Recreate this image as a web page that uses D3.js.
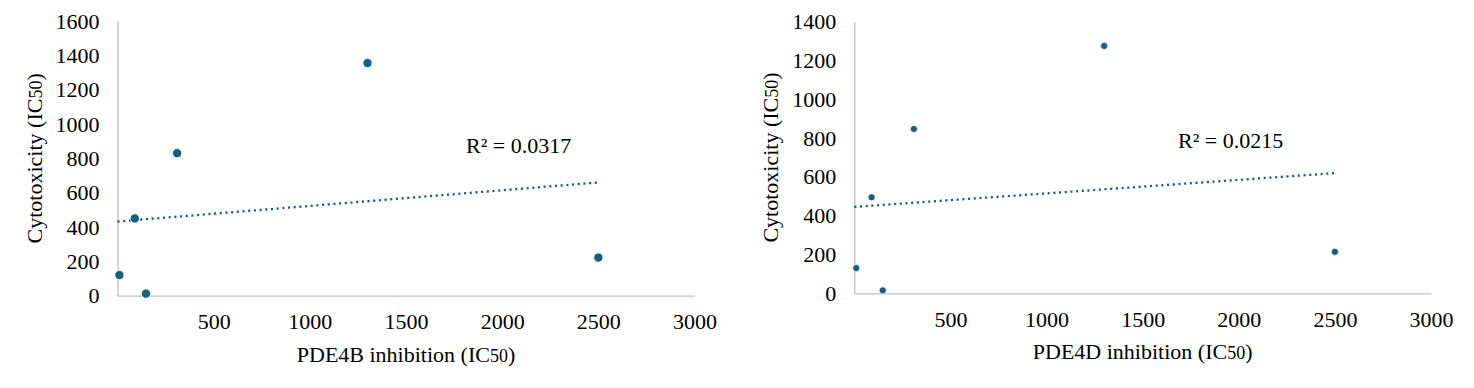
<!DOCTYPE html>
<html>
<head>
<meta charset="utf-8">
<script src="https://cdn.jsdelivr.net/npm/d3@7"></script>
<style>
  body { margin: 0; background: #fff; }
  svg text { font-family: "Liberation Serif", "Times New Roman", serif; fill: #000; }
  .axis .domain { stroke: #c0c0c0; stroke-width: 1.3; }
  .axis text { font-size: 22px; }
</style>
</head>
<body>
<div class="chart"></div>
<script>
// data
const inhibition = [10, 90, 148, 310, 1300, 2500];       // x values (IC50), same compounds both panels
const cytoPDE4B = [120, 450, 12, 830, 1355, 222];
const cytoPDE4D = [130, 495, 15, 847, 1275, 214];
const xTicks = [500, 1000, 1500, 2000, 2500, 3000];
const yTicksB = [0, 200, 400, 600, 800, 1000, 1200, 1400, 1600];
const yTicksD = [0, 200, 400, 600, 800, 1000, 1200, 1400];
const xTitles = ['PDE4B inhibition', 'PDE4D inhibition'];
const r2Labels = ['R² = 0.0317', 'R² = 0.0215'];

const color = '#165e83';

const svg = d3.select('.chart').append('svg')
  .attr('width', 1474).attr('height', 388);

// least squares line for the trendline
function linearFit(xs, ys) {
  const mx = d3.mean(xs), my = d3.mean(ys);
  let sxy = 0, sxx = 0;
  xs.forEach((x, i) => { sxy += (x - mx) * (ys[i] - my); sxx += (x - mx) ** 2; });
  const slope = sxy / sxx;
  return x => my + slope * (x - mx);
}

function drawPanel(opt) {
  const g = svg.append('g');
  const x = d3.scaleLinear([0, 3000], [opt.left, opt.right]);
  const y = d3.scaleLinear([0, d3.max(opt.yTicks)], [opt.bottom, opt.top]);

  // axes, no tick marks
  g.append('g').attr('class', 'axis')
    .attr('transform', `translate(0,${opt.bottom})`)
    .call(d3.axisBottom(x).tickValues(xTicks).tickSize(0).tickPadding(18).tickFormat(d3.format('d')));
  g.append('g').attr('class', 'axis')
    .attr('transform', `translate(${opt.left},0)`)
    .call(d3.axisLeft(y).tickValues(opt.yTicks).tickSize(0).tickPadding(18).tickFormat(d3.format('d')));
  g.selectAll('.axis').attr('font-family', null).attr('font-size', null);
  g.selectAll('.axis .tick line').remove();

  // dotted trendline
  const fit = linearFit(inhibition, opt.values);
  const xEnds = [0, d3.max(inhibition)];
  g.append('path')
    .datum(xEnds)
    .attr('d', d3.line().x(d => x(d)).y(d => y(fit(d))))
    .attr('fill', 'none')
    .attr('stroke', color)
    .attr('stroke-width', 2.3)
    .attr('stroke-dasharray', '2.1 3.6');

  // points
  g.selectAll('circle').data(inhibition).join('circle')
    .attr('cx', d => x(d))
    .attr('cy', (d, i) => y(opt.values[i]))
    .attr('r', opt.r)
    .attr('fill', color)
    .attr('stroke', '#fff')
    .attr('stroke-width', 0.8);

  // R² label
  g.append('text')
    .attr('x', opt.r2x).attr('y', opt.r2y)
    .style('font-size', '22px')
    .text(opt.r2);

  // axis titles
  const xt = g.append('text')
    .attr('x', (opt.left + opt.right) / 2).attr('y', opt.bottom + 66)
    .attr('text-anchor', 'middle')
    .style('font-size', '22px');
  xt.append('tspan').text(opt.xTitle + ' (IC');
  xt.append('tspan').text('50').style('font-size', '18px');
  xt.append('tspan').text(')');

  const yt = g.append('text')
    .attr('transform', `translate(${opt.left - 76},${(opt.top + opt.bottom) / 2}) rotate(-90)`)
    .attr('text-anchor', 'middle')
    .style('font-size', '22px');
  yt.append('tspan').text('Cytotoxicity (IC');
  yt.append('tspan').text('50').style('font-size', '18px');
  yt.append('tspan').text(')');
}

svg.append('rect').attr('width', 1474).attr('height', 388).attr('fill', '#fff').lower();

drawPanel({
  left: 117.5, right: 694.5, top: 21, bottom: 295.7,
  yTicks: yTicksB, values: cytoPDE4B, r: 4.6,
  r2: r2Labels[0], r2x: 466, r2y: 153,
  xTitle: xTitles[0]
});
drawPanel({
  left: 854.3, right: 1431, top: 21.7, bottom: 293.3,
  yTicks: yTicksD, values: cytoPDE4D, r: 3.6,
  r2: r2Labels[1], r2x: 1178, r2y: 148,
  xTitle: xTitles[1]
});
</script>
</body>
</html>
